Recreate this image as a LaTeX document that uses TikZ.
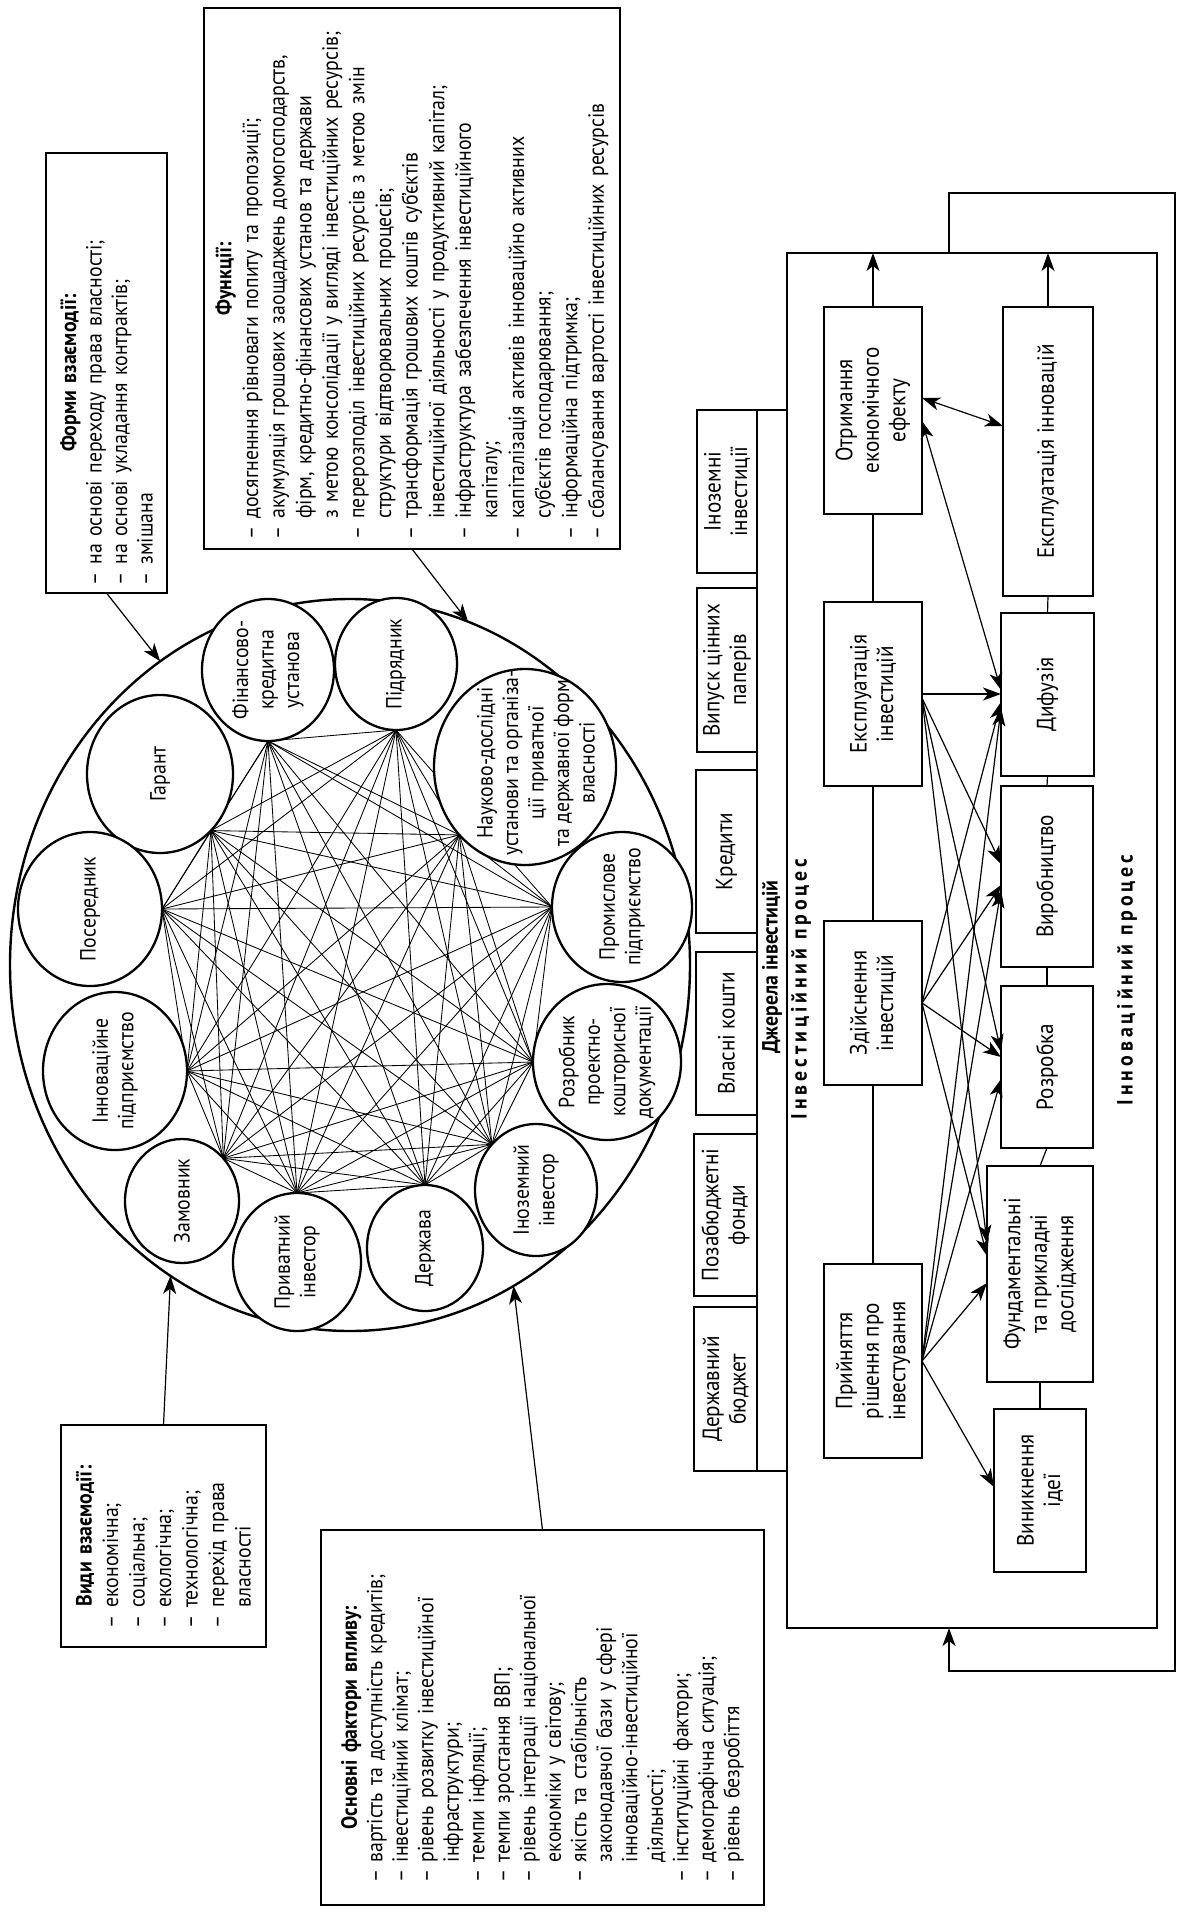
\documentclass[tikz,border=0pt]{standalone}
\usepackage{fontspec}
\setmainfont{PT Sans}[FakeStretch=0.9]
\usetikzlibrary{shapes.geometric,arrows.meta,calc,backgrounds}
\newcommand\ind{\hphantom{–\ }}
\begin{document}
\begin{tikzpicture}[x=1pt,y=-1pt,
  font=\fontsize{22}{25.5}\selectfont,
  rbox/.style={draw, line width=2.3pt, rotate=90, align=center, inner sep=2pt, outer sep=0pt, fill=white, font=\fontsize{23.5}{26.5}\selectfont},
  tbox/.style={draw, line width=2.3pt, rotate=90, align=left, inner sep=0pt, outer sep=0pt},
  ell/.style={draw, ellipse, line width=2.3pt, rotate=90, inner sep=0pt, outer sep=0pt, fill=white},
  bigell/.style={draw, ellipse, line width=2.4pt, rotate=90, inner sep=0pt, outer sep=0pt},
  etext/.style={rotate=90, align=center, inner sep=0pt},
  net/.style={line width=0.85pt},
  conn/.style={line width=1.2pt},
  arr/.style={conn, -{Stealth[length=18pt,width=13pt,inset=5pt]}},
  darr/.style={conn, {Stealth[length=18pt,width=13pt,inset=5pt]}-{Stealth[length=18pt,width=13pt,inset=5pt]}},
  lsp/.style={rotate=90, inner sep=0pt, font=\fontsize{22}{25.5}\selectfont\bfseries\addfontfeature{LetterSpace=18}}
]
\useasboundingbox (0,0) rectangle (1178,1913);

% ---------- big ellipse and participants ----------
\node[bigell, minimum width=732, minimum height=680] (big) at (350,965) {};

\node[ell, minimum width=142, minimum height=132] (fin)  at (268,670) {};
\node[ell, minimum width=132, minimum height=122] (pid)  at (396,664) {};
\node[ell, minimum width=158, minimum height=146] (gar)  at (160,774) {};
\node[ell, minimum width=154, minimum height=144] (pos)  at (90,909) {};
\node[ell, minimum width=196, minimum height=182] (nau)  at (525,767) {};
\node[ell, minimum width=150, minimum height=140] (prom) at (622,907) {};
\node[ell, minimum width=158, minimum height=144] (inn)  at (115,1071) {};
\node[ell, minimum width=156, minimum height=148] (roz)  at (607,1062) {};
\node[ell, minimum width=124, minimum height=114] (zam)  at (182,1201) {};
\node[ell, minimum width=138, minimum height=128] (pri)  at (297,1262) {};
\node[ell, minimum width=126, minimum height=116] (der)  at (425,1248) {};
\node[ell, minimum width=132, minimum height=122] (ino)  at (536,1190) {};

\node[etext] (tfin)  at (fin)  {Фінансово-\\кредитна\\установа};
\node[etext] (tpid)  at (pid)  {Підрядник};
\node[etext] (tgar)  at (gar)  {Гарант};
\node[etext] (tpos)  at (pos)  {Посередник};
\node[etext] (tnau)  at (536,763) {Науково-дослідні\\установи та організа-\\ції приватної\\та державної форм\\власності};
\node[etext] (tprom) at (prom) {Промислове\\підприємство};
\node[etext] (tinn)  at (inn)  {Інноваційне\\підприємство};
\node[etext] (troz)  at (roz)  {Розробник\\проектно-\\кошторисної\\документації};
\node[etext] (tzam)  at (zam)  {Замовник};
\node[etext] (tpri)  at (pri)  {Приватний\\інвестор};
\node[etext] (tder)  at (der)  {Держава};
\node[etext] (tino)  at (ino)  {Іноземний\\інвестор};

\coordinate (h1) at (fin.180);
\coordinate (h2) at (pid.180);
\coordinate (h3) at (gar.222);
\coordinate (h4) at (pos.270);
\coordinate (h5) at (nau.136);
\coordinate (h6) at (prom.90);
\coordinate (h7) at (inn.270);
\coordinate (h8) at (roz.90);
\coordinate (h9) at (zam.316);
\coordinate (h10) at (pri.0);
\coordinate (h11) at (der.0);
\coordinate (h12) at (ino.44);

\begin{scope}[on background layer]
  \fill[white] (0,0) rectangle (1178,1913);
  \foreach \i in {1,...,11}{
    \pgfmathtruncatemacro\s{\i+1}
    \foreach \j in {\s,...,12}{ \draw[net] (h\i) -- (h\j); }
  }
\end{scope}

% ---------- text boxes ----------
\node[tbox, minimum width=440, minimum height=121, text width=424] (forms) at (106.5,373) {%
\makebox[\hsize]{\bfseries Форми взаємодії:}\\
– на основі переходу права власності;\\
– на основі укладання контрактів;\\
– змішана};

\node[tbox, minimum width=541, minimum height=416, text width=521,
      font=\fontsize{22}{26.6}\selectfont] (funk) at (412,278.5) {%
\makebox[\hsize]{\bfseries Функції:}\\
– досягненння рівноваги попиту та пропозиції;\\
– акумуляція грошових заощаджень домогосподарств,\\
\ind фірм, кредитно-фінансових установ та держави\\
\ind з метою консолідації у вигляді інвестиційних ресурсів;\\
– перерозподіл  інвестиційних ресурсів з метою змін\\
\ind структури відтворювальних процесів;\\
– трансформація грошових коштів суб’єктів\\
\ind інвестиційної діяльності у продуктивний капітал;\\
– інфраструктура забезпечення інвестиційного\\
\ind капіталу;\\
– капіталізація активів інноваційно активних\\
\ind суб’єктів господарювання;\\
– інформаційна підтримка;\\
– сбалансування вартості інвестиційних ресурсів};

\node[tbox, minimum width=222, minimum height=205, text width=184,
      font=\fontsize{22}{26.5}\selectfont] (vydy) at (163.5,1536) {%
\makebox[\hsize]{\bfseries Види взаємодії:}\\
– економічна;\\
– соціальна;\\
– екологічна;\\
– технологічна;\\
– перехід права\\
\ind власності};

\node[tbox, minimum width=375, minimum height=443, text width=330] (osn) at (542.5,1717.5) {%
\makebox[\hsize]{\bfseries Основні фактори впливу:}\\
– вартість та доступність кредитів;\\
– інвестиційний клімат;\\
– рівень розвитку інвестиційної\\
\ind інфраструктури;\\
– темпи інфляції;\\
– темпи зростання ВВП;\\
– рівень інтеграції національної\\
\ind економіки у світову;\\
– якість та стабільність\\
\ind законодавчої бази у сфері\\
\ind інноваційно-інвестиційної\\
\ind діяльності;\\
– інституційні фактори;\\
– демографічна ситуація;\\
– рівень безробіття};

\draw[arr] (forms.west) -- (big.32);
\draw[arr] (funk.west) -- (big.341);
\draw[arr] (vydy.east) -- (big.150);
\draw[arr] (osn.east) -- (big.207);

% ---------- sources ----------
\node[draw, line width=2.3pt, minimum width=30, minimum height=1061, inner sep=0pt, outer sep=0pt] (jbar) at (772,940.5) {};
\node[draw, line width=2.3pt, minimum width=370, minimum height=1375, inner sep=0pt, outer sep=0pt] (innbox) at (972,940.5) {};

\node[rbox, minimum width=163, minimum height=60] (sino)  at (727,491.5) {Іноземні\\інвестиції};
\node[rbox, minimum width=164, minimum height=60] (svyp)  at (727,670) {Випуск цінних\\паперів};
\node[rbox, minimum width=163, minimum height=61] (skred) at (726.5,851.5) {Кредити};
\node[rbox, minimum width=163, minimum height=61] (svlas) at (726.5,1033.5) {Власні кошти};
\node[rbox, minimum width=162, minimum height=63] (spoza) at (725.5,1215) {Позабюджетні\\фонди};
\node[rbox, minimum width=164, minimum height=63] (sderz) at (725.5,1389) {Державний\\бюджет};

\node[rotate=90, inner sep=0pt, font=\fontsize{22}{25.5}\selectfont\bfseries] (jlab) at (772,967) {Джерела інвестицій};
\node[lsp] (invlab) at (801,989) {Інвестиційний процес};
\node[lsp] (innlab) at (1127,980) {Інноваційний процес};

% ---------- process boxes ----------
\node[rbox, minimum width=207, minimum height=98] (otr)    at (873,410.5) {Отримання\\економічного\\ефекту};
\node[rbox, minimum width=184, minimum height=98] (eksinv) at (873,694) {Експлуатація\\інвестицій};
\node[rbox, minimum width=164, minimum height=98] (zdi)    at (873,1003) {Здійснення\\інвестицій};
\node[rbox, minimum width=194, minimum height=98] (pry)    at (873,1361) {Прийняття\\рішення про\\інвестування};

\node[rbox, minimum width=289, minimum height=90]  (eksinn) at (1048,451.5) {Експлуатація інновацій};
\node[rbox, minimum width=163, minimum height=93]  (dyf)    at (1047.5,694.5) {Дифузія};
\node[rbox, minimum width=181, minimum height=92]  (vyr)    at (1047,876.5) {Виробництво};
\node[rbox, minimum width=162, minimum height=92]  (rozr)   at (1047,1067) {Розробка};
\node[rbox, minimum width=216, minimum height=106] (fund)   at (1040,1274) {Фундаментальні\\та прикладні\\дослідження};
\node[rbox, minimum width=163, minimum height=92]  (vyn)    at (1040,1490.5) {Виникнення\\ідеї};

% chains
\draw[arr] (otr.east) -- (otr.east |- innbox.north);
\draw[conn] (otr.west) -- (eksinv.east);
\draw[conn] (eksinv.west) -- (zdi.east);
\draw[conn] (zdi.west) -- (pry.east);
\draw[arr] (eksinn.east) -- (eksinn.east |- innbox.north);
\draw[conn] (eksinn.west) -- (dyf.east);
\draw[conn] (dyf.west) -- (vyr.east);
\draw[conn] (vyr.west) -- (rozr.east);
\draw[conn] (rozr.west) -- (fund.east);
\draw[conn] (fund.west) -- (vyn.east);

% cross arrows
\draw[darr] ([yshift=12.5pt]otr.south) -- ([yshift=25.5pt]eksinn.north);
\draw[darr] ([yshift=-10.5pt]otr.south) -- ([yshift=4.5pt]dyf.north);

\coordinate (pE) at ([yshift=-4pt]eksinv.south);
\draw[arr] (eksinv.south) -- (eksinv.south -| dyf.north);
\draw[arr] (pE) -- ([yshift=12.5pt]vyr.north);
\draw[arr] (pE) -- ([yshift=15pt]rozr.north);
\draw[arr] (pE) -- ([yshift=31pt]fund.north);

\draw[arr] (zdi.south) -- ([yshift=-7.5pt]dyf.north);
\draw[arr] (zdi.south) -- ([yshift=-8.5pt]vyr.north);
\draw[arr] (zdi.south) -- ([yshift=10pt]rozr.north);
\draw[arr] (zdi.south) -- ([yshift=18pt]fund.north);

\draw[arr] (pry.south) -- ([yshift=-13.5pt]dyf.north);
\draw[arr] (pry.south) -- ([yshift=-13.5pt]vyr.north);
\draw[arr] (pry.south) -- ([yshift=-12pt]rozr.north);
\draw[arr] (pry.south) -- ([yshift=-9pt]fund.north);
\draw[arr] (pry.south) -- ([yshift=3.5pt]vyn.north);

% feedback loop
\coordinate (lpA) at (1175,193);
\coordinate (lpB) at (949,1671);
\draw[arr] ([xshift=-23pt]innbox.north) |- (lpA) |- (lpB) -- ([xshift=-23pt]innbox.south);
\end{tikzpicture}
\end{document}
